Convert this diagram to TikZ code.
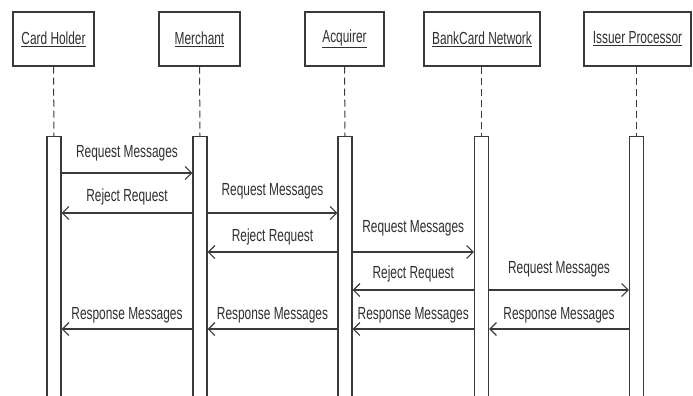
\documentclass[tikz,border=0pt]{standalone}
\usepackage{fontspec}
\newfontfamily\narrowsans[FakeStretch=0.68]{Liberation Sans}
\usetikzlibrary{arrows.meta}
\definecolor{linec}{HTML}{3A3A3A}
\definecolor{txtc}{HTML}{303030}
\begin{document}
\begin{tikzpicture}[x=1pt,y=-1pt,
  lbl/.style={font=\narrowsans\fontsize{17.5}{19}\selectfont, text=txtc, inner sep=0pt},
  hdr/.style={draw=linec, line width=1.1pt, minimum height=54pt, inner sep=0pt, fill=white,
              font=\narrowsans\fontsize{17.5}{19}\selectfont, text=txtc},
  actbar/.style={draw=linec, line width=1.1pt, fill=white, minimum width=14pt, minimum height=280pt,
                 inner sep=0pt, anchor=north},
  life/.style={draw=linec, line width=1pt, dash pattern=on 7pt off 4pt},
  msg/.style={draw=linec, line width=1.2pt, -{Straight Barb[length=6.5pt,width=13pt]}}]
\useasboundingbox (0,0) rectangle (693,396);
\clip (0,0) rectangle (693,396);
\fill[white] (0,0) rectangle (693,396);
% headers
\node[hdr, minimum width=81pt]  (ch) at (53.5,39)  {\underline{Card Holder}};
\node[hdr, minimum width=81pt]  (me) at (199.5,39) {\underline{Merchant}};
\node[hdr, minimum width=79pt]  (ac) at (344.5,39) {\underline{Acquirer}};
\node[hdr, minimum width=116pt] (bn) at (482,39)   {\underline{BankCard Network}};
\node[hdr, minimum width=107pt] (ip) at (637.5,39) {\underline{Issuer Processor}};
% activation bars
\node[actbar] (b1) at (54,136)  {};
\node[actbar] (b2) at (200,136) {};
\node[actbar] (b3) at (345,136) {};
\node[actbar] (b4) at (481.5,136) {};
\node[actbar] (b5) at (636.5,136) {};
% lifelines
\draw[life] (ch.south) -- (b1.north);
\draw[life] (me.south) -- (b2.north);
\draw[life] (ac.south) -- (b3.north);
\draw[life] (bn.south -| b4.north) -- (b4.north);
\draw[life] (ip.south -| b5.north) -- (b5.north);
% messages
\draw[msg] (b1.east |- 0,173) -- node[lbl, midway, anchor=base, yshift=16pt] {Request Messages} (b2.west |- 0,173);
\draw[msg] (b2.west |- 0,213) -- node[lbl, midway, anchor=base, yshift=12pt] {Reject Request} (b1.east |- 0,213);
\draw[msg] (b2.east |- 0,213) -- node[lbl, midway, anchor=base, yshift=18pt] {Request Messages} (b3.west |- 0,213);
\draw[msg] (b3.west |- 0,252) -- node[lbl, midway, anchor=base, yshift=11pt] {Reject Request} (b2.east |- 0,252);
\draw[msg] (b3.east |- 0,252) -- node[lbl, midway, anchor=base, yshift=20pt] {Request Messages} (b4.west |- 0,252);
\draw[msg] (b4.west |- 0,290) -- node[lbl, midway, anchor=base, yshift=12pt] {Reject Request} (b3.east |- 0,290);
\draw[msg] (b4.east |- 0,290) -- node[lbl, midway, anchor=base, yshift=17pt] {Request Messages} (b5.west |- 0,290);
\draw[msg] (b2.west |- 0,329) -- node[lbl, midway, anchor=base, yshift=10pt] {Response Messages} (b1.east |- 0,329);
\draw[msg] (b3.west |- 0,329) -- node[lbl, midway, anchor=base, yshift=10pt] {Response Messages} (b2.east |- 0,329);
\draw[msg] (b4.west |- 0,329) -- node[lbl, midway, anchor=base, yshift=10pt] {Response Messages} (b3.east |- 0,329);
\draw[msg] (b5.west |- 0,329) -- node[lbl, midway, anchor=base, yshift=10pt] {Response Messages} (b4.east |- 0,329);
\end{tikzpicture}
\end{document}
